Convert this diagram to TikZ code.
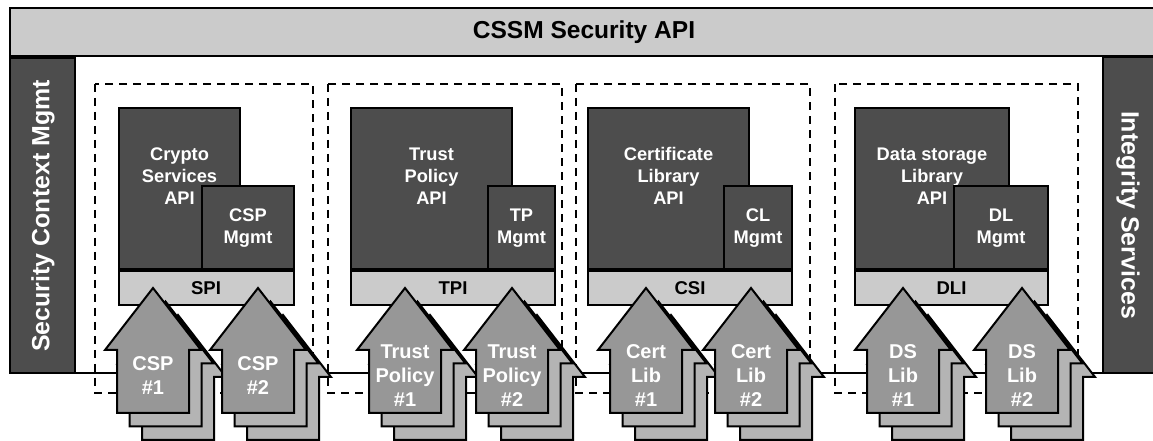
\documentclass[tikz,border=0pt]{standalone}
\usepackage{fontspec}
\setmainfont{Liberation Sans}
\usetikzlibrary{calc}

\definecolor{apigray}{HTML}{4D4D4D}
\definecolor{bargray}{HTML}{CBCBCB}
\definecolor{addingray}{HTML}{979797}
\definecolor{stackgray}{HTML}{B4B4B4}

% add-in module: two copies behind, one in front, label on the front one
\def\tipy{288}
\def\hw{48}
\def\sw{36}
\def\hh{62}
\def\sh{63}
\newcommand{\addinstack}[3]{%
  \foreach \k in {2,1}
    \draw[addinback, shift={(12.5*\k,13.5*\k)}] (#1,\tipy) -- ++(\hw,\hh) -- ++(\sw-\hw,0)
      -- ++(0,\sh) -- ++(-2*\sw,0) -- ++(0,-\sh) -- ++(\sw-\hw,0) -- cycle;
  \draw[addinfront] (#1,\tipy) -- ++(\hw,\hh) -- ++(\sw-\hw,0)
      -- ++(0,\sh) -- ++(-2*\sw,0) -- ++(0,-\sh) -- ++(\sw-\hw,0) -- cycle;
  \node[addintext] (#2) at (#1,376) {#3};
}

\begin{document}
\begin{tikzpicture}[x=0.75pt,y=-0.75pt,
  boxline/.style={draw=black,line width=1.5pt},
  darkbox/.style={boxline,fill=apigray},
  lightbox/.style={boxline,fill=bargray},
  groupbox/.style={draw=black,line width=1.7pt,dash pattern=on 6pt off 4.5pt},
  addinback/.style={boxline,fill=stackgray},
  addinfront/.style={boxline,fill=addingray},
  boxtext/.style={text=white,font=\bfseries\fontsize{13.7}{16.5}\selectfont,align=center,inner sep=0pt},
  bartext/.style={text=black,font=\bfseries\fontsize{13.9}{16.5}\selectfont,inner sep=0pt},
  sidetext/.style={text=white,font=\bfseries\fontsize{18.7}{22}\selectfont,inner sep=0pt},
  addintext/.style={text=white,font=\bfseries\fontsize{15}{18}\selectfont,align=center,inner sep=0pt}]
\useasboundingbox (0,0) rectangle (1153,441);
\clip (0,0) rectangle (1153,441);

% CSSM API bar and the two side services
\draw[lightbox] (10,8) rectangle (1165,56);
\node[bartext,font=\bfseries\fontsize{18.4}{22}\selectfont] (cssm) at (584,32.5) {CSSM Security API};
\draw[darkbox] (10,58) rectangle (75,373);
\node[sidetext,rotate=90] (ctxmgmt) at (43,216) {Security Context Mgmt};
\draw[darkbox] (1103,57) rectangle (1165,373);
\node[sidetext,rotate=-90] (integrity) at (1128,215) {Integrity Services};

\coordinate (ctxfoot) at (75,373);
\coordinate (intfoot) at (1103,373);
\draw[line width=1.5pt] (ctxfoot) -- (intfoot);

% Module groups
\foreach \l/\r in {95/313, 328/562, 576/810, 835/1078}
  \draw[groupbox] (\l,84) rectangle (\r,393);

% Crypto services
\draw[darkbox] (119,108) rectangle (240,269);
\node[boxtext] (cspapi) at (179.5,176) {Crypto\\Services\\API};
\draw[darkbox] (202,186) rectangle (294,269);
\node[boxtext] (cspmgmt) at (248,228) {CSP\\Mgmt};
\draw[lightbox] (119,271) rectangle (294,305);
\node[bartext] (spi) at (206,288.5) {SPI};

% Trust policy
\draw[darkbox] (351,108) rectangle (512,269);
\node[boxtext] (tpapi) at (431.5,176) {Trust\\Policy\\API};
\draw[darkbox] (488,186) rectangle (555,269);
\node[boxtext] (tpmgmt) at (521.5,228) {TP\\Mgmt};
\draw[lightbox] (351,271) rectangle (555,305);
\node[bartext] (tpi) at (453,288.5) {TPI};

% Certificate library
\draw[darkbox] (588,108) rectangle (749,269);
\node[boxtext] (clapi) at (668.5,176) {Certificate\\Library\\API};
\draw[darkbox] (724,186) rectangle (792,269);
\node[boxtext] (clmgmt) at (758,228) {CL\\Mgmt};
\draw[lightbox] (588,271) rectangle (792,305);
\node[bartext] (csi) at (690,288.5) {CSI};

% Data storage library
\draw[darkbox] (855,108) rectangle (1009,269);
\node[boxtext] (dlapi) at (932,176) {Data storage\\Library\\API};
\draw[darkbox] (954,186) rectangle (1048,269);
\node[boxtext] (dlmgmt) at (1001,228) {DL\\Mgmt};
\draw[lightbox] (855,271) rectangle (1048,305);
\node[bartext] (dli) at (951.5,288.5) {DLI};

% Add-in modules
\addinstack{153}{csp1}{CSP\\\#1}
\addinstack{258}{csp2}{CSP\\\#2}
\addinstack{405}{tp1}{Trust\\Policy\\\#1}
\addinstack{512}{tp2}{Trust\\Policy\\\#2}
\addinstack{646}{cl1}{Cert\\Lib\\\#1}
\addinstack{751}{cl2}{Cert\\Lib\\\#2}
\addinstack{903}{dl1}{DS\\Lib\\\#1}
\addinstack{1022}{dl2}{DS\\Lib\\\#2}
\end{tikzpicture}
\end{document}
